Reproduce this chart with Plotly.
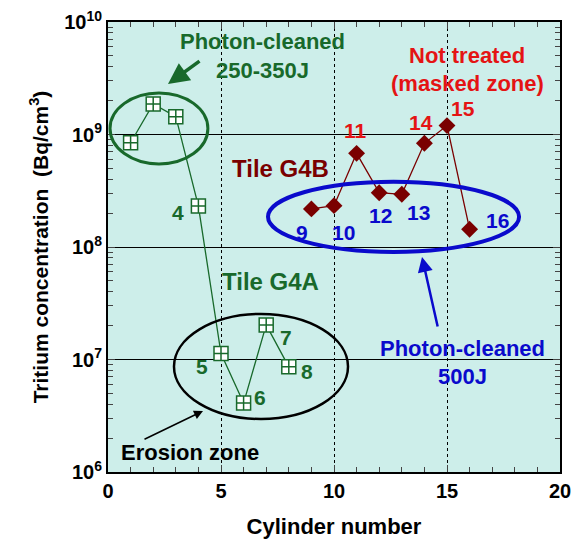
import plotly.graph_objects as go

# ---- data ----
g4a_x = [1, 2, 3, 4, 5, 6, 7, 8]
g4a_y = [8.45e8, 1.87e9, 1.44e9, 2.31e8, 1.13e7, 4.1e6, 2.03e7, 8.6e6]
g4b_x = [9, 10, 11, 12, 13, 14, 15, 16]
g4b_y = [2.18e8, 2.33e8, 6.8e8, 3.04e8, 2.94e8, 8.35e8, 1.2e9, 1.44e8]
x_ticks = [0, 5, 10, 15, 20]
y_ticks = [1e6, 1e7, 1e8, 1e9, 1e10]
y_tick_labels = ["10<sup>6</sup>", "10<sup>7</sup>", "10<sup>8</sup>", "10<sup>9</sup>", "10<sup>10</sup>"]

GREEN = "#18692b"
DRED = "#7a0000"
RED = "#e41414"
BLUE = "#0a0acc"
FONT = "Liberation Sans, Arial, sans-serif"

fig = go.Figure()
fig.add_trace(go.Scatter(
    x=g4a_x, y=g4a_y, mode="lines+markers",
    line=dict(color=GREEN, width=1.3),
    marker=dict(symbol="square-cross", size=14, color="white",
                line=dict(color=GREEN, width=1.5)),
    showlegend=False))
fig.add_trace(go.Scatter(
    x=g4b_x, y=g4b_y, mode="lines+markers",
    line=dict(color=DRED, width=1.3),
    marker=dict(symbol="diamond", size=13, color=DRED,
                line=dict(color=DRED, width=0)),
    showlegend=False))

# ellipses
fig.add_shape(type="circle", xref="x", yref="y", x0=0.09, x1=4.42, y0=5.47e8, y1=2.34e9,
              line=dict(color=GREEN, width=3))
fig.add_shape(type="circle", xref="x", yref="y", x0=2.92, x1=10.62, y0=2.96e6, y1=2.54e7,
              line=dict(color="black", width=2.5))
fig.add_shape(type="circle", xref="x", yref="y", x0=7.08, x1=18.19, y0=9.04e7, y1=3.8e8,
              line=dict(color=BLUE, width=4))

def txt(x, y, s, color, size=22, xanchor="center"):
    fig.add_annotation(x=x, y=y, xref="paper", yref="paper", text="<b>%s</b>" % s,
                       showarrow=False, font=dict(family=FONT, size=size, color=color),
                       xanchor=xanchor, yanchor="middle")

# pixel -> paper helpers (plot area 108..560 x, 22..472 y)
def px(x):
    return (x - 108) / (560 - 108)

def py(y):
    return (472 - y) / (472 - 22)

txt(px(262), py(42), "Photon-cleaned", GREEN)
txt(px(262), py(70), "250-350J", GREEN)
txt(px(280), py(168), "Tile G4B", DRED, 24)
txt(px(467), py(55), "Not treated", RED)
txt(px(467), py(83), "(masked zone)", RED)
txt(px(355), py(130), "11", RED, 21)
txt(px(421), py(122), "14", RED, 21)
txt(px(463), py(108), "15", RED, 21)
txt(px(302), py(232), "9", BLUE, 21)
txt(px(343), py(232), "10", BLUE, 21)
txt(px(380), py(215), "12", BLUE, 21)
txt(px(418), py(213), "13", BLUE, 21)
txt(px(497), py(221), "16", BLUE, 21)
txt(px(178), py(213), "4", GREEN, 21)
txt(px(202), py(366), "5", GREEN, 21)
txt(px(260), py(397), "6", GREEN, 21)
txt(px(286), py(337), "7", GREEN, 21)
txt(px(307), py(371), "8", GREEN, 21)
txt(px(270), py(281), "Tile G4A", GREEN, 24)
txt(px(190), py(452), "Erosion zone", "black", 22)
txt(px(462), py(348), "Photon-cleaned", BLUE)
txt(px(462), py(376), "500J", BLUE)

def arrow(x0, y0, x1, y1, color, width):
    fig.add_annotation(x=px(x1), y=py(y1), xref="paper", yref="paper",
                       ax=x0 - x1, ay=y0 - y1, axref="pixel", ayref="pixel",
                       showarrow=True, arrowhead=2, arrowsize=1.2, arrowwidth=width,
                       arrowcolor=color, text="")

arrow(201, 60, 168, 84, GREEN, 3.5)
arrow(143, 440, 203, 411, "black", 1.5)
arrow(438, 328, 422, 257, BLUE, 2.5)

fig.update_layout(
    width=571, height=543,
    margin=dict(l=108, r=11, t=22, b=71),
    paper_bgcolor="white", plot_bgcolor="#cdeeea",
    font=dict(family=FONT, color="black"),
    xaxis=dict(range=[0, 20], tickvals=x_ticks, ticktext=["<b>%d</b>" % v for v in x_ticks],
               ticks="inside", ticklen=7, automargin=False, ticklabeloverflow="allow",
               showline=True, linecolor="black", linewidth=2, mirror="ticks",
               showgrid=True, gridcolor="black", gridwidth=1, griddash="dot",
               zeroline=False,
               minor=dict(dtick=1, ticks="inside", ticklen=5, showgrid=False),
               tickfont=dict(size=20, family=FONT),
               title=dict(text="<b>Cylinder number</b>", font=dict(size=22, family=FONT), standoff=18)),
    yaxis=dict(type="log", range=[6, 10], tickvals=y_ticks, ticktext=["<b>%s</b>" % t for t in y_tick_labels],
               ticks="inside", ticklen=7, automargin=False, ticklabeloverflow="allow",
               showline=True, linecolor="black", linewidth=2, mirror="ticks",
               showgrid=True, gridcolor="black", gridwidth=1,
               zeroline=False,
               minor=dict(dtick="D1", ticks="inside", ticklen=5, showgrid=False),
               tickfont=dict(size=20, family=FONT),
               title=dict(text="<b>Tritium concentration  (Bq/cm<sup>3</sup>)</b>",
                          font=dict(size=21, family=FONT), standoff=10)),
)

fig.write_html("out.html")
